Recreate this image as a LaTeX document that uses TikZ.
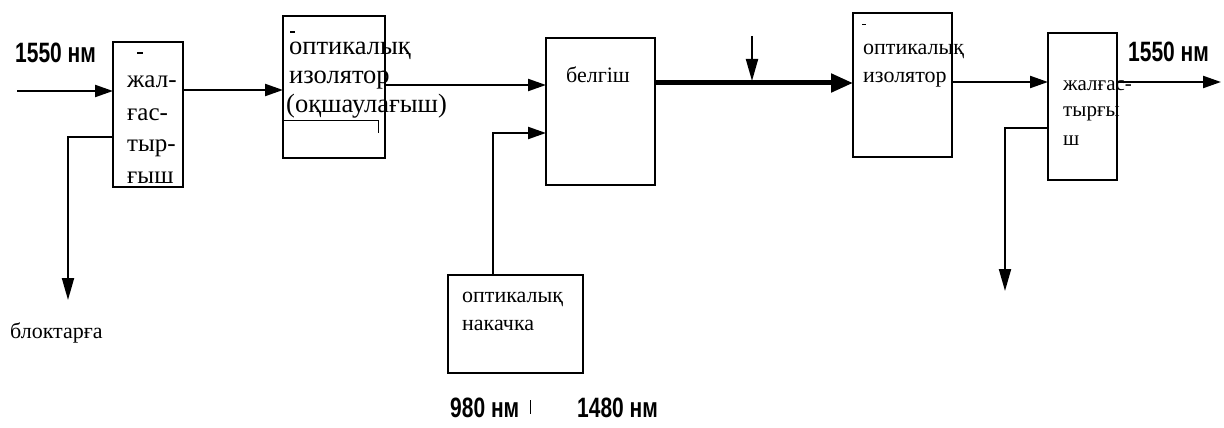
\documentclass[tikz,border=0pt]{standalone}
\usepackage{fontspec}
\setmainfont{Liberation Serif}
\newfontfamily\lblfont[FakeStretch=0.75]{Liberation Sans}
\usetikzlibrary{arrows.meta}
\begin{document}
\begin{tikzpicture}[x=1pt,y=-1pt,
  box/.style={draw,line width=2pt,anchor=north west,inner sep=0pt,outer sep=0pt},
  txt/.style={anchor=base west,inner sep=0pt},
  lbl/.style={anchor=base west,inner sep=0pt,font=\lblfont\bfseries\fontsize{28}{28}\selectfont},
  ln/.style={line width=2.2pt},
  arr/.style={line width=2.2pt,-{Triangle[length=18pt,width=12pt]}},
  darr/.style={line width=2pt,-{Triangle[length=22pt,width=12pt]}},
  tarr/.style={line width=5pt,-{Triangle[length=22pt,width=18pt]}}]
\useasboundingbox (0,0) rectangle (1224,428);
% boxes
\node[box,minimum width=70pt,minimum height=145pt] (c1) at (113,42) {};
\node[box,minimum width=102pt,minimum height=142pt] (iso1) at (283,16) {};
\node[box,minimum width=109pt,minimum height=147pt] (bel) at (546,38) {};
\node[box,minimum width=135pt,minimum height=98pt] (pump) at (448,275) {};
\node[box,minimum width=99pt,minimum height=144pt] (iso2) at (853,13) {};
\node[box,minimum width=69pt,minimum height=147pt] (c2) at (1048,33) {};
% texts
\begin{scope}[every node/.append style={font=\fontsize{25}{30}\selectfont}]
\node[txt] (c1a) at (127,88) {жал-};
\node[txt] (c1b) at (127,120) {ғас-};
\node[txt] (c1c) at (127,151) {тыр-};
\node[txt] (c1d) at (127,183) {ғыш};
\end{scope}
\begin{scope}[every node/.append style={font=\fontsize{26.5}{30}\selectfont}]
\node[txt] (i1a) at (289,55) {оптикалық};
\node[txt] (i1b) at (289,84) {изолятор};
\node[txt] (i1c) at (286,113) {(оқшаулағыш)};
\end{scope}
\begin{scope}[every node/.append style={font=\fontsize{22}{27}\selectfont}]
\node[txt] (bt) at (566,83) {белгіш};
\node[txt] (p1) at (462,302) {оптикалық};
\node[txt] (p2) at (462,330) {накачка};
\node[txt] (i2a) at (863,55) {оптикалық};
\node[txt] (i2b) at (863,83) {изолятор};
\node[txt] (bl) at (10,338) {блоктарға};
\end{scope}
\begin{scope}[every node/.append style={font=\fontsize{21}{27}\selectfont}]
\node[txt] (c2a) at (1063,90) {жалғас-};
\node[txt] (c2b) at (1063,117) {тырғы};
\node[txt] (c2c) at (1063,145) {ш};
\end{scope}
% labels
\node[lbl] (l1) at (15,63) {1550 нм};
\node[lbl] (l2) at (1128,62) {1550 нм};
\node[lbl] (l3) at (450,417) {980 нм};
\node[lbl] (l4) at (577,417) {1480 нм};
% coordinates
\coordinate (in) at (17,91);
\coordinate (out) at (1221,82);
\coordinate (b1) at (68,137);
\coordinate (b1e) at (68,300);
\coordinate (b2) at (1005,128);
\coordinate (b2e) at (1005,291);
\coordinate (pk) at (493,133);
\coordinate (sm) at (752,36);
\coordinate (sme) at (752,81);
% connectors
\draw[arr] (in) -- (c1.west |- in);
\draw[arr] (c1.east |- 0,90) -- (iso1.west |- 0,90);
\draw[arr] (iso1.east |- 0,85) -- (bel.west |- 0,85);
\draw[arr] (pump.north -| pk) -- (pk) -- (bel.west |- pk);
\draw[tarr] (bel.east |- 0,83) -- (iso2.west |- 0,83);
\draw[darr] (sm) -- (sme);
\draw[arr] (iso2.east |- 0,82) -- (c2.west |- 0,82);
\draw[arr] (c2.east |- out) -- (out);
\draw[darr] (c1.west |- b1) -- (b1) -- (b1e);
\draw[darr] (c2.west |- b2) -- (b2) -- (b2e);
% small marks of the scan
\draw[line width=2pt] (137,53) -- (143,53);
\draw[line width=2pt] (290,32) -- (295,32);
\draw[line width=1pt] (862,25) -- (866,25);
\draw[line width=1pt] (283,120) -- (378,120) -- (378,133);
\draw[line width=1pt] (530,400) -- (530,414);
\end{tikzpicture}
\end{document}
